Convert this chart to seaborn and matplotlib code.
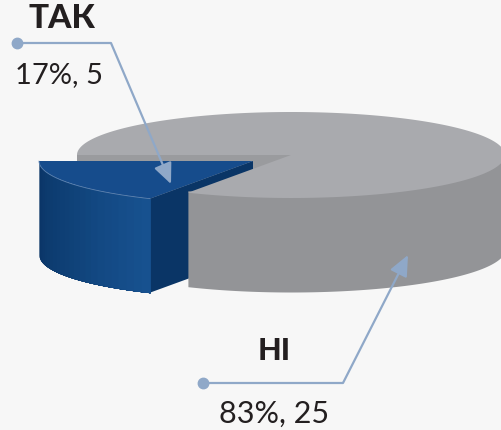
import numpy as np
import seaborn as sns
import matplotlib.pyplot as plt

# Poll result, pseudo 3d pie
labels = ['ТАК', 'НІ']
counts = [5, 25]
shares = [17, 83]
value_labels = ['17%, 5', '83%, 25']

sns.set_theme(style='white')
plt.rcParams['font.family'] = ['Lato', 'Open Sans', 'DejaVu Sans']

bg = '#f7f7f7'
line_col = '#8fa8c8'
text_col = '#231f20'

fig = plt.figure(figsize=(5.01, 4.30), dpi=100, facecolor=bg)
ax = fig.add_axes([0, 0, 1, 1], facecolor=bg)
ax.set_xlim(0, 501)
ax.set_ylim(430, 0)
ax.axis('off')

# ellipse of the pie top, in pixels
cx, cy, a, b = 291, 155, 214, 43
depth = 94
dx, dy = -38, 6  # pulled out slice


def arc(t0, t1, ox=0, oy=0, n=200):
    t = np.radians(np.linspace(t0, t1, n))
    return cx + ox + a * np.cos(t), cy + oy + b * np.sin(t)


# angles come from the shares, y axis is flipped so sin > 0 is the front
start = 180
cut = start - shares[0] / sum(shares) * 360
end = cut - shares[1] / sum(shares) * 360

# dark inner wall behind the pulled out slice
ax.fill([cx, cx - a, cx - a, cx], [cy, cy, cy + depth, cy + depth], color='#9a9b9e', lw=0, zorder=1)

# blue cut face
xb, yb = arc(start, cut, dx, dy)
ax.fill([cx + dx, xb[-1], xb[-1], cx + dx],
        [cy + dy, yb[-1], yb[-1] + depth, cy + dy + depth], color='#0a3566', lw=0, zorder=2)

# grey side (front part only) and top, side goes a bit under the top to hide the seam
xs, ys = arc(cut, 0, n=400)
ax.fill_between(xs, ys - 2, ys + depth, color='#939497', lw=0, zorder=3)
xg, yg = arc(cut, end, n=800)
ax.fill(np.r_[cx, xg], np.r_[cy, yg], color='#a9aaae', lw=0, zorder=4)

# blue side with gradient, each strip runs to the end so no seams show
n_strips = 24
grad = sns.blend_palette(['#0a3465', '#0f4177', '#17518f'], n_strips)
edges = np.linspace(0, len(xb) - 1, n_strips + 1).astype(int)
for i in range(n_strips):
    k = slice(edges[i], None)
    ax.fill_between(xb[k], yb[k], yb[k] + depth, color=grad[i], lw=0, zorder=5)
ax.fill(np.r_[cx + dx, xb], np.r_[cy + dy, yb], color='#164c8c', lw=0, zorder=6)
ax.plot(xb, yb, color='#5c82b0', lw=0.6, zorder=6)

# leader lines
ax.plot([17, 111], [43, 43], color=line_col, lw=1.6, zorder=7, solid_capstyle='butt')
ax.plot([203, 343], [383, 383], color=line_col, lw=1.6, zorder=7, solid_capstyle='butt')
ax.plot([17, 203], [43, 383], ls='none', marker='o', ms=7.5, color=line_col, zorder=7)
arrow = dict(arrowstyle='-|>,head_length=0.9,head_width=0.4', color=line_col, lw=1.6,
             shrinkA=0, shrinkB=0, mutation_scale=14)
ax.annotate('', xy=(171, 184), xytext=(111, 43), arrowprops=arrow, zorder=8)
ax.annotate('', xy=(408, 255), xytext=(343, 383), arrowprops=arrow, zorder=8)

# texts
ax.text(62, 18, labels[0], fontsize=24, fontweight='black', color=text_col, ha='center', va='center')
ax.text(59, 75, value_labels[0], fontsize=21, color=text_col, ha='center', va='center')
ax.text(274, 351, labels[1], fontsize=22, fontweight='black', color=text_col, ha='center', va='center')
ax.text(274, 414, value_labels[1], fontsize=22, color=text_col, ha='center', va='center')

fig.savefig('out.png', dpi=100, facecolor=bg)
